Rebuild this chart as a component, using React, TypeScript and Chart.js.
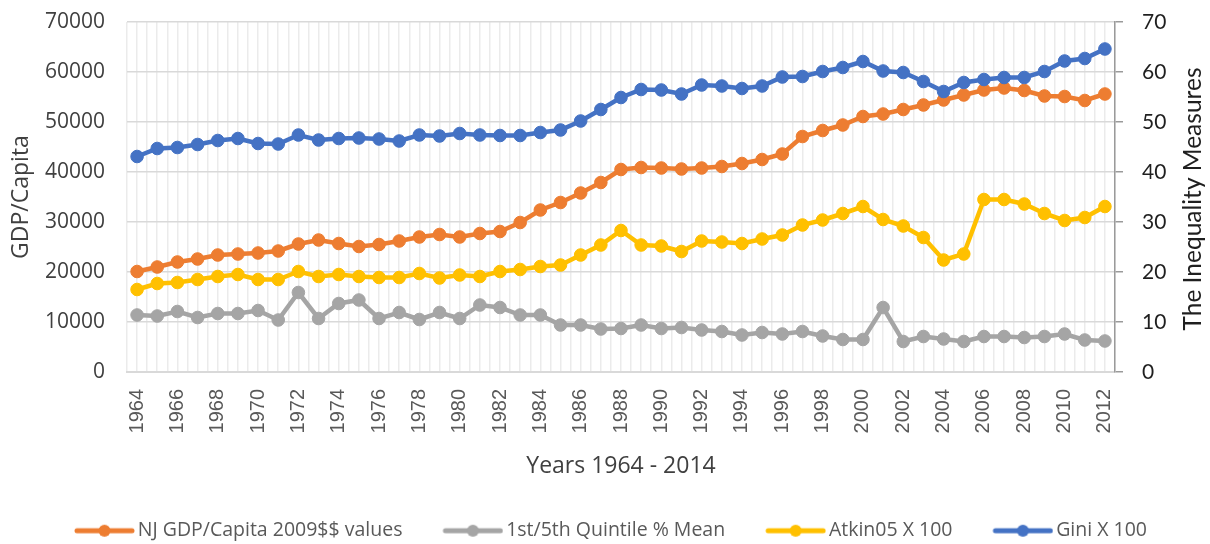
import { useEffect, useRef } from 'react';
import { Chart, registerables } from 'chart.js';

Chart.register(...registerables);

const years = [
  '1964', '1965', '1966', '1967', '1968', '1969', '1970', '1971', '1972', '1973',
  '1974', '1975', '1976', '1977', '1978', '1979', '1980', '1981', '1982', '1983',
  '1984', '1985', '1986', '1987', '1988', '1989', '1990', '1991', '1992', '1993',
  '1994', '1995', '1996', '1997', '1998', '1999', '2000', '2001', '2002', '2003',
  '2004', '2005', '2006', '2007', '2008', '2009', '2010', '2011', '2012',
];

const gdpPerCapita = [
  20100, 21000, 22000, 22600, 23400, 23600, 23800, 24200, 25600, 26400,
  25700, 25100, 25500, 26200, 27000, 27500, 27000, 27700, 28100, 29900,
  32400, 33900, 35800, 37900, 40500, 40900, 40800, 40600, 40800, 41100,
  41700, 42500, 43600, 47100, 48300, 49400, 51100, 51600, 52500, 53400,
  54400, 55400, 56400, 56800, 56300, 55200, 55100, 54300, 55600,
];

const quintileMean = [
  11.4, 11.2, 12.1, 10.9, 11.7, 11.7, 12.3, 10.4, 15.9, 10.7,
  13.7, 14.4, 10.7, 11.9, 10.5, 11.9, 10.7, 13.4, 12.9, 11.4,
  11.4, 9.4, 9.4, 8.6, 8.7, 9.4, 8.7, 8.9, 8.4, 8.1,
  7.4, 7.9, 7.6, 8.1, 7.2, 6.5, 6.5, 12.9, 6.1, 7.1,
  6.6, 6.1, 7.1, 7.1, 6.9, 7.1, 7.6, 6.4, 6.2,
];

const atkin05 = [
  16.5, 17.7, 17.9, 18.5, 19.1, 19.5, 18.5, 18.5, 20.1, 19.1,
  19.5, 19.1, 18.9, 18.9, 19.7, 18.8, 19.4, 19.1, 20.1, 20.5,
  21.1, 21.4, 23.4, 25.4, 28.3, 25.4, 25.2, 24.1, 26.2, 26.0,
  25.7, 26.6, 27.4, 29.4, 30.4, 31.7, 33.1, 30.5, 29.2, 26.9,
  22.4, 23.6, 34.5, 34.5, 33.6, 31.7, 30.3, 30.9, 33.1,
];

const gini = [
  43.1, 44.7, 44.9, 45.5, 46.3, 46.7, 45.7, 45.6, 47.4, 46.4,
  46.7, 46.8, 46.6, 46.2, 47.4, 47.2, 47.7, 47.4, 47.3, 47.3,
  47.9, 48.4, 50.2, 52.5, 54.9, 56.5, 56.4, 55.6, 57.4, 57.2,
  56.7, 57.2, 59.0, 59.1, 60.1, 60.9, 62.1, 60.2, 59.9, 58.1,
  56.1, 57.9, 58.5, 58.9, 58.9, 60.1, 62.2, 62.7, 64.6,
];

const seriesNames = [
  'NJ GDP/Capita 2009$$ values',
  '1st/5th Quintile % Mean',
  'Atkin05 X 100',
  'Gini X 100',
];
const seriesColors = ['#ED7D31', '#A5A5A5', '#FFC000', '#4472C4'];

const leftTitle = 'GDP/Capita';
const rightTitle = 'The Inequality Measures';
const xTitle = 'Years 1964 - 2014';

function makeSample(color: string): HTMLCanvasElement {
  const c = document.createElement('canvas');
  c.width = 65;
  c.height = 16;
  const ctx = c.getContext('2d')!;
  ctx.strokeStyle = color;
  ctx.lineWidth = 5;
  ctx.lineCap = 'round';
  ctx.beginPath();
  ctx.moveTo(7, 8);
  ctx.lineTo(62, 8);
  ctx.stroke();
  ctx.fillStyle = color;
  ctx.beginPath();
  ctx.arc(34.5, 8, 6, 0, Math.PI * 2);
  ctx.fill();
  return c;
}

const rightTitlePlugin = {
  id: 'rightTitle',
  afterLayout(chart: any) {
    if (chart.legend) {
      chart.legend.left += 7;
      chart.legend.right += 7;
    }
  },
  afterDraw(chart: any) {
    const s = chart.scales.y1;
    const ctx = chart.ctx;
    ctx.save();
    ctx.translate(s.right - 17, (s.top + s.bottom) / 2 + 2);
    ctx.rotate(-Math.PI / 2);
    ctx.font = '24.5px Lato';
    ctx.fillStyle = '#1f1f1f';
    ctx.textAlign = 'center';
    ctx.textBaseline = 'middle';
    ctx.fillText(rightTitle, 0, 0);
    ctx.restore();
  },
};

export default function App() {
  const ref = useRef<HTMLCanvasElement | null>(null);

  useEffect(() => {
    document.body.style.margin = '0';
    if (!ref.current) return;
    const samples = seriesColors.map(makeSample);
    const mk = (i: number, data: number[], axis: string, order: number) => ({
      label: seriesNames[i],
      data,
      yAxisID: axis,
      xAxisID: 'x',
      order,
      borderColor: seriesColors[i],
      backgroundColor: seriesColors[i],
      pointBackgroundColor: seriesColors[i],
      pointBorderColor: seriesColors[i],
      borderWidth: 4.5,
      pointRadius: 6.3,
      pointBorderWidth: 1,
      tension: 0,
      fill: false,
    });

    const chart = new Chart(ref.current, {
      type: 'line',
      data: {
        labels: years,
        datasets: [
          mk(0, gdpPerCapita, 'y', 4),
          mk(1, quintileMean, 'y1', 3),
          mk(2, atkin05, 'y1', 2),
          mk(3, gini, 'y1', 1),
        ],
      },
      options: {
        animation: false,
        responsive: true,
        maintainAspectRatio: false,
        layout: { padding: { top: 22, right: 0, bottom: -6.5, left: 0 } },
        plugins: {
          tooltip: { enabled: false },
          legend: {
            position: 'bottom',
            labels: {
              usePointStyle: true,
              pointStyleWidth: 51,
              padding: 43,
              color: '#595959',
              font: { family: 'Open Sans', size: 19.5 },
              sort: (a: any, b: any) => a.datasetIndex - b.datasetIndex,
              generateLabels: (chart: any) => {
                const items = Chart.defaults.plugins.legend.labels.generateLabels(chart);
                return items.map((it: any) => ({ ...it, pointStyle: samples[it.datasetIndex] }));
              },
            },
          },
        },
        scales: {
          x: {
            type: 'category',
            offset: true,
            position: 'bottom',
            grid: { offset: true, color: '#ebebeb', lineWidth: 1.5, drawTicks: false },
            border: { display: true, color: '#d9d9d9', width: 2 },
            ticks: {
              autoSkip: false,
              minRotation: 90,
              maxRotation: 90,
              padding: 17,
              color: '#595959',
              font: { family: 'Liberation Sans', size: 20 },
              callback: (_v: any, i: number) => (i % 2 === 0 ? years[i] : ''),
            },
            title: {
              display: true,
              text: xTitle,
              color: '#404040',
              font: { family: 'Open Sans', size: 23 },
              padding: { top: 0, bottom: -2 },
            },
            afterFit: (s: any) => { s.height = 106; },
          },
          x2: {
            type: 'category',
            labels: years,
            offset: true,
            position: 'bottom',
            grid: { offset: false, color: '#ebebeb', lineWidth: 1.5, drawTicks: false },
            border: { display: false },
            ticks: { display: false },
            afterFit: (s: any) => { s.height = 0; },
          },
          y: {
            type: 'linear',
            position: 'left',
            min: 0,
            max: 70000,
            ticks: {
              stepSize: 10000,
              padding: 22,
              color: '#404040',
              font: { family: 'Open Sans', size: 21 },
              callback: (v: any) => String(v),
            },
            grid: { color: '#d9d9d9', lineWidth: 1.5, drawTicks: false },
            border: { display: false },
            title: {
              display: true,
              text: leftTitle,
              color: '#404040',
              font: { family: 'Open Sans', size: 23 },
              padding: { top: 8, bottom: 0 },
            },
            afterFit: (s: any) => { s.width = 127; s.paddingTop = 0; },
          },
          y1: {
            type: 'linear',
            position: 'right',
            min: 0,
            max: 70,
            ticks: {
              stepSize: 10,
              padding: 19,
              color: '#1f1f1f',
              font: { family: 'Lato', size: 21 },
            },
            grid: { drawOnChartArea: false, drawTicks: true, tickLength: 8, color: '#9a9a9a', lineWidth: 1.5 },
            border: { display: true, color: '#9a9a9a', width: 1.5 },
            afterFit: (s: any) => { s.width = 95; s.paddingTop = 0; },
          },
        },
      } as any,
      plugins: [rightTitlePlugin],
    });
    return () => chart.destroy();
  }, []);

  return (
    <div style={{ position: 'relative', width: '1210px', height: '544px' }}>
      <canvas ref={ref} />
    </div>
  );
}
